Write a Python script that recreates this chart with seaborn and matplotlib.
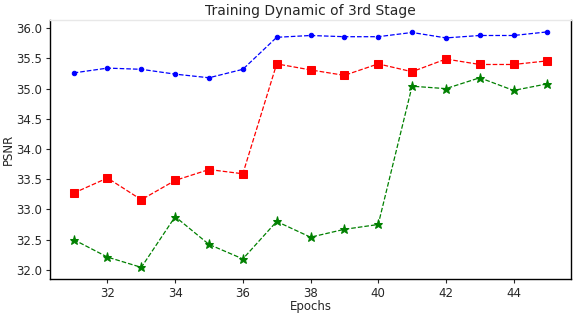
import numpy as np
import pandas as pd
import matplotlib
matplotlib.use("Agg")
import matplotlib.pyplot as plt
import seaborn as sns

epochs = list(range(31, 46))
psnr_blue = [35.26, 35.34, 35.32, 35.24, 35.18, 35.32, 35.85, 35.88, 35.86, 35.86, 35.93, 35.84, 35.88, 35.88, 35.94]
psnr_red = [33.27, 33.52, 33.16, 33.48, 33.66, 33.59, 35.41, 35.31, 35.22, 35.41, 35.28, 35.49, 35.40, 35.40, 35.46]
psnr_green = [32.50, 32.21, 32.04, 32.88, 32.42, 32.18, 32.80, 32.54, 32.67, 32.75, 35.04, 35.00, 35.18, 34.97, 35.08]

sns.set_style("ticks")
plt.rcParams['font.family'] = ['DejaVu Sans']

fig = plt.figure(figsize=(5.74, 3.14), dpi=100)
ax = fig.add_axes([0.087, 0.111, 0.908, 0.825])

series = [
    (psnr_blue, 'blue', 'o', 3.2),
    (psnr_red, 'red', 's', 6.0),
    (psnr_green, 'green', '*', 6.5),
]
for vals, col, mk, ms in series:
    sns.lineplot(x=epochs, y=vals, ax=ax, color=col, marker=mk, markersize=ms,
                 markeredgecolor=col, linestyle='--', linewidth=0.9)

ax.set_xticks([32, 34, 36, 38, 40, 42, 44])
ax.set_yticks([32.0, 32.5, 33.0, 33.5, 34.0, 34.5, 35.0, 35.5, 36.0])
ax.yaxis.set_major_formatter(matplotlib.ticker.FormatStrFormatter('%.1f'))
ax.tick_params(labelsize=8.5, length=3, pad=2.5)
ax.set_xlabel('Epochs', fontsize=8.5, labelpad=0)
ax.set_ylabel('PSNR', fontsize=8.5, labelpad=1)
ax.set_title('Training Dynamic of 3rd Stage', fontsize=10, pad=4)
for s in ax.spines.values():
    s.set_color('black')
    s.set_linewidth(1.0)
ax.spines['top'].set_color('#e8e8e8')

fig.savefig('out.png', dpi=100)
